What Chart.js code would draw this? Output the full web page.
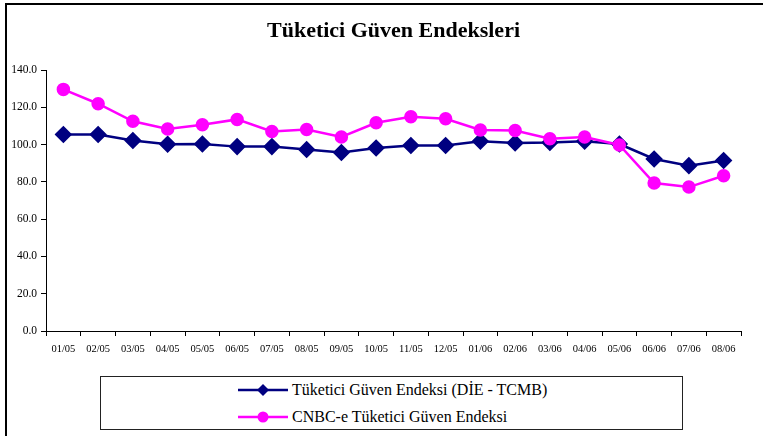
<!DOCTYPE html>
<html>
<head>
<meta charset="utf-8">
<script src="https://cdn.jsdelivr.net/npm/chart.js@4.4.1/dist/chart.umd.min.js"></script>
<style>
  html, body { margin: 0; padding: 0; background: #fff; overflow: hidden; }
  #wrap { position: relative; width: 763px; height: 436px; }
  #frame { position: absolute; left: 5px; top: 3px; width: 800px; height: 500px; border: 2px solid #000; box-sizing: border-box; }
  canvas { position: absolute; left: 0; top: 0; }
  #legend { position: absolute; left: 100px; top: 376px; width: 583px; height: 54px; border: 1px solid #222; box-sizing: border-box; background: #fff;
            font-family: "Liberation Serif", "Times New Roman", serif; font-size: 16px; color: #000; }
  .item { position: absolute; left: 137px; height: 20px; display: flex; align-items: center; white-space: nowrap; }
  .item svg { margin-right: 4px; }
</style>
</head>
<body>
<div id="wrap">
  <div id="frame"></div>
  <canvas id="c" width="763" height="436"></canvas>
  <div id="legend"></div>
</div>
<script>
const categories = ["01/05","02/05","03/05","04/05","05/05","06/05","07/05","08/05","09/05","10/05","11/05","12/05","01/06","02/06","03/06","04/06","05/06","06/06","07/06","08/06"];
const dieTcmb = [105.4,105.4,102.2,100.2,100.3,98.9,98.9,97.3,95.7,98.2,99.5,99.5,101.8,100.9,101.1,101.8,100.3,92.3,88.7,91.5];
const cnbc = [129.6,121.9,112.5,108.4,110.6,113.5,107.0,108.1,104.1,111.7,114.9,113.8,107.8,107.5,103.1,104.1,99.8,79.4,77.2,83.3];
const seriesNames = ["Tüketici Güven Endeksi (DİE - TCMB)", "CNBC-e Tüketici Güven Endeksi"];
const yTicks = [0,20,40,60,80,100,120,140];
const titleText = "Tüketici Güven Endeksleri";

const NAVY = "#000080", PINK = "#FF00FF";
const serif = '"Liberation Serif", "Times New Roman", serif';

const chart = new Chart(document.getElementById('c'), {
  type: 'line',
  data: {
    labels: categories,
    datasets: [
      { label: seriesNames[0], data: dieTcmb, borderColor: NAVY, backgroundColor: NAVY, borderWidth: 2.5,
        pointStyle: 'rectRot', pointRadius: 7, pointHoverRadius: 7, tension: 0, order: 1 },
      { label: seriesNames[1], data: cnbc, borderColor: PINK, backgroundColor: PINK, borderWidth: 2.5,
        pointStyle: 'circle', pointRadius: 5.5, pointHoverRadius: 5.5, tension: 0, order: 0 }
    ]
  },
  options: {
    responsive: false,
    animation: false,
    events: [],
    layout: { padding: { top: 0, left: 0, right: 22, bottom: 75 } },
    plugins: {
      legend: { display: false },
      tooltip: { enabled: false },
      title: { display: true, fullSize: false, text: titleText, color: '#000',
               font: { family: serif, size: 22, weight: 'bold', lineHeight: 1.2 },
               padding: { top: 18, bottom: 25.6 } }
    },
    scales: {
      x: {
        type: 'category',
        offset: true,
        grid: { offset: true, drawOnChartArea: false, drawTicks: true, tickLength: 5, color: '#000' },
        border: { display: true, color: '#000', width: 1 },
        ticks: { color: '#000', font: { family: serif, size: 10.5 }, padding: 7, maxRotation: 0, autoSkip: false },
        afterFit: s => { s.height = 30; }
      },
      y: {
        min: 0, max: 140,
        afterBuildTicks: s => { s.ticks = yTicks.map(v => ({ value: v })); },
        grid: { drawOnChartArea: false, drawTicks: true, tickLength: 5, color: '#000' },
        border: { display: true, color: '#000', width: 1 },
        ticks: { color: '#000', font: { family: serif, size: 11.5 }, padding: 4,
                 callback: v => Number(v).toFixed(1) },
        afterFit: s => { s.width = 46; }
      }
    }
  }
});

// HTML legend built from the datasets
const legend = document.getElementById('legend');
chart.data.datasets.forEach((ds, i) => {
  const div = document.createElement('div');
  div.className = 'item';
  div.style.top = (i === 0 ? 3 : 30) + 'px';
  const marker = ds.pointStyle === 'rectRot'
    ? '<polygon points="25,4 31,10 25,16 19,10" fill="' + ds.borderColor + '"/>'
    : '<circle cx="25" cy="10" r="5.5" fill="' + ds.borderColor + '"/>';
  div.innerHTML = '<svg width="50" height="20"><line x1="0" y1="10" x2="50" y2="10" stroke="' + ds.borderColor + '" stroke-width="2.5"/>' + marker + '</svg><span>' + ds.label + '</span>';
  legend.appendChild(div);
});
</script>
</body>
</html>
